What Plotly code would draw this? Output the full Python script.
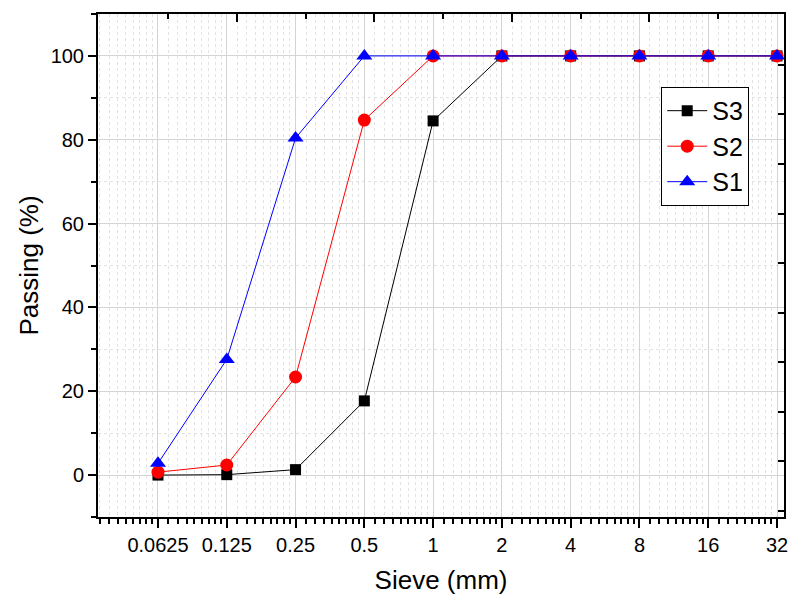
import math
import plotly.graph_objects as go

sieve = [0.0625, 0.125, 0.25, 0.5, 1, 2, 4, 8, 16, 32]
tick_labels = ["0.0625", "0.125", "0.25", "0.5", "1", "2", "4", "8", "16", "32"]
s3 = [0.0, 0.1, 1.3, 17.7, 84.5, 100, 100, 100, 100, 100]
s2 = [0.7, 2.4, 23.4, 84.7, 100, 100, 100, 100, 100, 100]
s1 = [2.8, 27.6, 80.4, 100, 100, 100, 100, 100, 100, 100]

FONT = "Liberation Sans, Arial, sans-serif"

# axis extents (log10)
x_lo, x_hi = -1.4667, 1.5358
shift = 0.0437

# minor ticks: 8 linear subdivisions per octave
minor_x = []
base = 0.03125
while base < 40:
    for k in range(1, 9):
        v = base * (1 + k / 9)
        if 10 ** x_lo < v < 10 ** x_hi:
            minor_x.append(v)
    base *= 2

fig = go.Figure()
fig.add_trace(go.Scatter(x=sieve, y=s3, name="S3", mode="lines+markers",
                         line=dict(color="black", width=1),
                         marker=dict(symbol="square", size=11, color="black")))
fig.add_trace(go.Scatter(x=sieve, y=s2, name="S2", mode="lines+markers",
                         line=dict(color="#ff0000", width=1),
                         marker=dict(symbol="circle", size=13, color="#ff0000")))
fig.add_trace(go.Scatter(x=sieve, y=s1, name="S1", mode="lines+markers",
                         line=dict(color="#0000ff", width=1),
                         marker=dict(symbol="triangle-up", size=14, color="#0000ff")))
# invisible trace to activate the mirror-tick overlay axes
fig.add_trace(go.Scatter(x=[1], y=[5], xaxis="x2", yaxis="y2", mode="markers",
                         marker=dict(opacity=0), showlegend=False, hoverinfo="skip"))

top_long = [0.125, 0.5, 2, 8]
top_short = [0.0625, 0.25, 1, 4, 16]

fig.update_layout(
    width=788, height=598,
    margin=dict(l=98, r=4, t=14, b=81),
    paper_bgcolor="white", plot_bgcolor="white",
    font=dict(family=FONT, color="black"),
    showlegend=True,
    legend=dict(x=0.821, y=0.855, xanchor="left", yanchor="top",
                bgcolor="white", bordercolor="black", borderwidth=1,
                font=dict(size=25, family=FONT), tracegroupgap=0,
                itemwidth=40),
    xaxis=dict(
        type="log", range=[x_lo, x_hi], automargin=False,
        tickmode="array", tickvals=sieve, ticktext=tick_labels,
        ticklabeloverflow="allow",
        ticks="outside", ticklen=9, tickwidth=2, tickcolor="black",
        showline=True, linecolor="black", linewidth=2, mirror=True,
        showgrid=True, gridcolor="#d4d4d4", gridwidth=1,
        tickfont=dict(size=20),
        title=dict(text="Sieve (mm)", font=dict(size=26), standoff=16),
        minor=dict(tickmode="array", tickvals=minor_x, ticks="outside",
                   ticklen=5, tickwidth=2, tickcolor="black",
                   showgrid=True, gridcolor="#e2e2e2", griddash="dot", gridwidth=1),
        zeroline=False,
    ),
    yaxis=dict(
        range=[-10, 110], automargin=False,
        tickmode="array", tickvals=[0, 20, 40, 60, 80, 100],
        ticklabeloverflow="allow",
        ticks="outside", ticklen=8, tickwidth=2, tickcolor="black",
        showline=True, linecolor="black", linewidth=2, mirror=True,
        showgrid=True, gridcolor="#d4d4d4", gridwidth=1,
        tickfont=dict(size=20),
        title=dict(text="Passing (%)", font=dict(size=26), standoff=5),
        minor=dict(tickmode="array", tickvals=[-10, 10, 30, 50, 70, 90, 110],
                   ticks="outside", ticklen=5, tickwidth=2, tickcolor="black",
                   showgrid=True, gridcolor="#e2e2e2", griddash="dot", gridwidth=1),
        zeroline=False,
    ),
    xaxis2=dict(
        type="log", overlaying="x", side="top", anchor="y",
        range=[x_lo - shift, x_hi - shift],
        tickmode="array", tickvals=top_long, showticklabels=False,
        ticks="inside", ticklen=8, tickwidth=2, tickcolor="black",
        showline=False, showgrid=False, zeroline=False,
        minor=dict(tickmode="array", tickvals=top_short, ticks="inside",
                   ticklen=5, tickwidth=2, tickcolor="black", showgrid=False),
    ),
    yaxis2=dict(
        overlaying="y", side="right", anchor="x",
        range=[-0.131, 10.03],
        tickmode="array", tickvals=list(range(0, 10)), showticklabels=False,
        ticks="inside", ticklen=6, tickwidth=2, tickcolor="black",
        showline=False, showgrid=False, zeroline=False,
    ),
)

fig.write_html("out.html")
